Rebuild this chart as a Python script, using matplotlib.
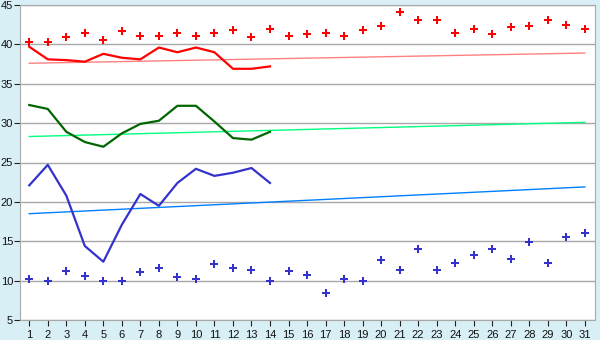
import numpy as np
import matplotlib
matplotlib.use("Agg")
import matplotlib.pyplot as plt

# data
days = list(range(1, 32))
days_line = list(range(1, 15))

max_pts = [40.3, 40.3, 40.9, 41.5, 40.6, 41.7, 41.1, 41.1, 41.5, 41.1,
           41.4, 41.8, 40.9, 42.0, 41.1, 41.3, 41.4, 41.1, 41.8, 42.3,
           44.1, 43.1, 43.1, 41.4, 42.0, 41.3, 42.2, 42.3, 43.1, 42.4, 42.0]
min_pts = [10.2, 10.0, 11.2, 10.6, 10.0, 10.0, 11.1, 11.6, 10.4, 10.2,
           12.1, 11.6, 11.4, 9.9, 11.2, 10.7, 8.4, 10.2, 10.0, 12.6,
           11.3, 14.0, 11.3, 12.2, 13.3, 14.0, 12.8, 14.9, 12.2, 15.5, 16.0]

red_line = [39.7, 38.1, 38.0, 37.8, 38.8, 38.3, 38.1, 39.6, 39.0, 39.6,
            39.0, 36.9, 36.9, 37.2]
green_line = [32.3, 31.8, 28.9, 27.6, 27.0, 28.7, 29.9, 30.3, 32.2, 32.2,
              30.2, 28.1, 27.9, 28.9]
blue_line = [22.1, 24.7, 20.8, 14.4, 12.4, 17.1, 21.0, 19.5, 22.4, 24.2,
             23.3, 23.7, 24.3, 22.4]

trend_days = [1, 31]
red_trend = [37.6, 38.9]
green_trend = [28.3, 30.1]
blue_trend = [18.5, 21.9]

bg = '#d9eff6'
grid_c = '#a8a8a8'

plt.rcParams['font.family'] = ['Liberation Sans', 'DejaVu Sans']

fig = plt.figure(figsize=(6, 3.4), dpi=100, facecolor=bg)
ax = fig.add_axes([20 / 600, 20 / 340, 575 / 600, 315 / 340])
ax.set_facecolor('white')

ax.set_xlim(0.5, 31.55)
ax.set_ylim(5, 45)
ax.set_yticks(range(5, 46, 5))
ax.set_xticks(days)
ax.yaxis.grid(True, color=grid_c, lw=1)
ax.set_axisbelow(True)

ax.plot(trend_days, red_trend, color='#ff8080', lw=1)
ax.plot(trend_days, green_trend, color='#00ff80', lw=1)
ax.plot(trend_days, blue_trend, color='#0080ff', lw=1)

ax.plot(days_line, red_line, color='#ff0000', lw=1.6)
ax.plot(days_line, green_line, color='#006600', lw=1.6)
ax.plot(days_line, blue_line, color='#3333cc', lw=1.6)

ax.plot(days, max_pts, ls='none', marker='P', ms=6, color='#ff0000', mew=0)
ax.plot(days, min_pts, ls='none', marker='P', ms=6, color='#3333cc', mew=0)

for s in ax.spines.values():
    s.set_color(grid_c)
ax.tick_params(axis='both', length=4, color='#222222', labelsize=8,
               labelcolor='#111111')
ax.tick_params(axis='y', pad=1)
ax.tick_params(axis='x', pad=3)

fig.savefig('out.png', dpi=100, facecolor=bg)
